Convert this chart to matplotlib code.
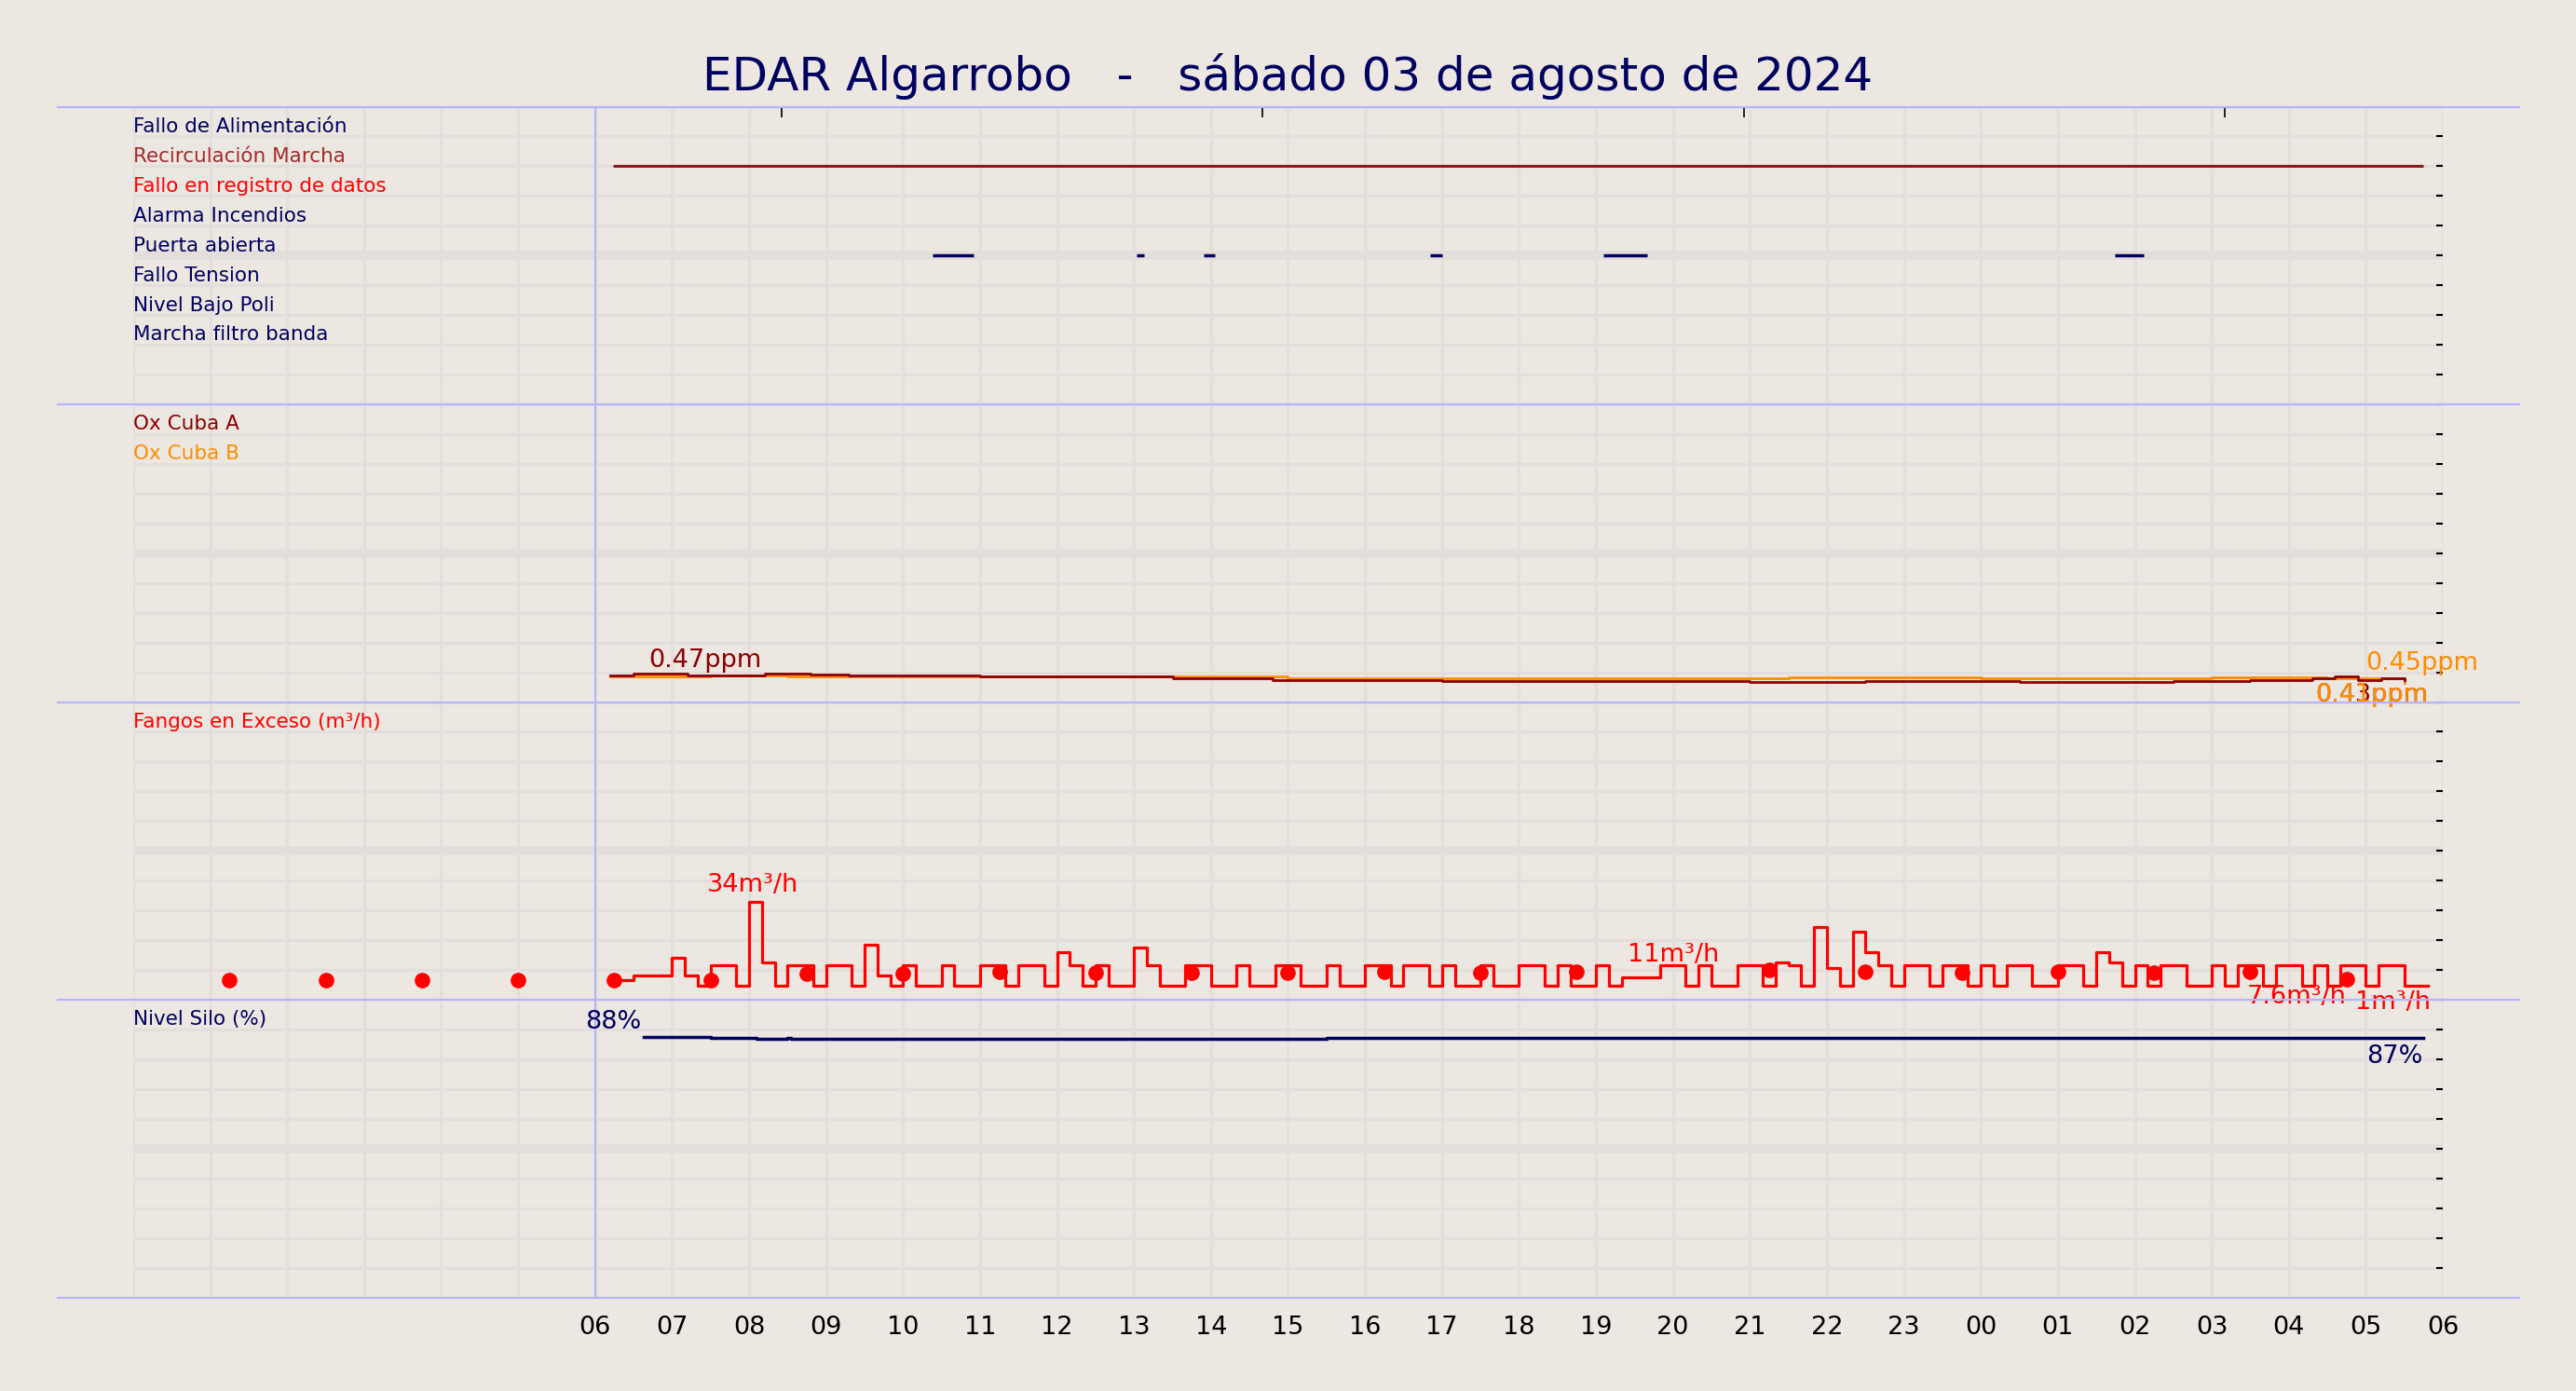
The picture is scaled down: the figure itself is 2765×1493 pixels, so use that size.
import numpy as np
import matplotlib
matplotlib.use("Agg")
import matplotlib.pyplot as plt
from matplotlib.lines import Line2D

# ---- datos ----
titulo = "EDAR Algarrobo   -   sábado 03 de agosto de 2024"
hour_labels = ["06", "07", "08", "09", "10", "11", "12", "13", "14", "15", "16", "17", "18",
               "19", "20", "21", "22", "23", "00", "01", "02", "03", "04", "05", "06"]

senales = ["Fallo de Alimentación", "Recirculación Marcha", "Fallo en registro de datos",
           "Alarma Incendios", "Puerta abierta", "Fallo Tension", "Nivel Bajo Poli",
           "Marcha filtro banda"]
senal_colores = ["#000060", "#A52A2A", "#FF0000", "#000060", "#000060",
                 "#000060", "#000060", "#000060"]
recirc_on = [(6.23, 29.74)]
puerta_on = [(10.38, 10.92), (13.03, 13.13), (13.9, 14.05), (16.84, 17.0),
             (19.1, 19.66), (25.74, 26.12)]

# oxigeno (ppm), cambios de escalon
ox_a_t = [6.2, 6.5, 7.2, 8.2, 8.8, 9.3, 11.0, 12.5, 13.5, 14.8, 15.5, 17.0, 19.0,
          21.0, 22.5, 24.5, 26.5, 27.5, 28.3, 28.6, 28.9, 29.2, 29.5]
ox_a_v = [0.46, 0.47, 0.46, 0.47, 0.465, 0.46, 0.455, 0.45, 0.44, 0.43, 0.425, 0.42,
          0.42, 0.415, 0.42, 0.415, 0.42, 0.425, 0.44, 0.45, 0.43, 0.44, 0.43]
ox_b_t = [6.2, 7.5, 8.5, 10.0, 13.0, 15.0, 18.0, 21.5, 24.0, 27.0, 28.5, 29.5]
ox_b_v = [0.45, 0.46, 0.455, 0.455, 0.45, 0.44, 0.44, 0.445, 0.44, 0.445, 0.44, 0.41]

# fangos en exceso (m3/h), valores cada 10 min desde 06:10
fangos_v = [3, 3, 5, 5, 5,
            12, 5, 1, 9, 9, 1,
            34, 10, 1, 9, 9, 1,
            9, 9, 1, 17, 5, 1,
            9, 1, 1, 9, 1, 1,
            9, 9, 1, 9, 9, 1,
            14, 9, 1, 9, 1, 1,
            16, 9, 1, 1, 9, 9,
            1, 1, 9, 1, 1, 9,
            9, 1, 1, 9, 1, 1,
            9, 9, 1, 9, 9, 1,
            9, 1, 1, 9, 1, 1,
            9, 9, 1, 9, 1, 1,
            9, 1, 4, 4, 4, 9,
            9, 1, 9, 1, 1, 9,
            9, 1, 10, 9, 1, 24,
            8, 1, 22, 14, 9, 1,
            9, 9, 1, 9, 9, 1,
            9, 1, 9, 9, 1, 1,
            9, 9, 1, 14, 10, 1,
            9, 1, 9, 9, 1, 1,
            9, 1, 9, 9, 1, 9,
            9, 1, 9, 1, 9, 9,
            1, 9, 9, 1, 1]
fangos_medias_t = [1.25, 2.5, 3.75, 5.0, 6.25, 7.5, 8.75, 10.0, 11.25, 12.5, 13.75, 15.0,
                   16.25, 17.5, 18.75, 21.25, 22.5, 23.75, 25.0, 26.25, 27.5, 28.75]
fangos_medias_v = [3, 3, 3, 3, 3, 3, 5.5, 5.5, 6.5, 6, 6, 6, 6.5, 6, 6.5, 7, 6.5, 6, 6.5, 6, 6.5, 3.5]

# nivel silo (%)
silo_t = [6.63, 7.5, 8.1, 8.5, 8.55, 15.5, 21.2, 22.0, 22.3, 23.0, 23.7, 24.0, 24.6,
          25.2, 26.0, 29.74]
silo_v = [88, 87.8, 87.6, 87.7, 87.6, 87.7, 87.8, 87.7, 87.8, 87.7, 87.8, 87.7,
          87.8, 87.7, 87.7, 87.7]

# ---- escalas de cada banda ----
def y_ox(v): return 20.85 + (np.asarray(v) - 0.45) * 5.0
def y_fan(v): return 10.4 + np.asarray(v) * 0.085
def y_silo(v): return np.asarray(v) * 0.0993

navy = "#000060"
bg = "#ECE7E1"
grid_c = "#E3DEDB"
blue = "#B4B4FF"

fig = plt.figure(figsize=(27.65, 14.93), dpi=100, facecolor=bg)
ax = fig.add_axes([0.0517, 0.0673, 0.8966, 0.8560], facecolor=bg)
ax.set_xlim(0, 30)
ax.set_ylim(0, 40)
for s in ax.spines.values():
    s.set_visible(False)

# rejilla
for h in range(0, 31):
    ax.axvline(h, color=grid_c, lw=2.2, zorder=0)
for r in range(0, 41):
    lw = 7 if r % 10 == 5 else 2.2
    ax.axhline(r, color=grid_c, lw=lw, zorder=0)
ax.axvline(6, color=blue, lw=1.5, zorder=1)
for yb in [0.0673 + 0.8560 * k / 4 for k in range(5)]:
    fig.add_artist(Line2D([0.0223, 0.978], [yb, yb], color=blue, lw=1.5, zorder=1))

ax.set_xticks(np.arange(6, 31))
ax.set_xticklabels(hour_labels, fontsize=19.5)
ax.tick_params(axis="x", length=0, pad=14)
ax.yaxis.tick_right()
ax.set_yticks(np.arange(1, 40))
ax.set_yticklabels([])
ax.tick_params(axis="y", length=5, width=1.5, direction="in", pad=0)
top = ax.secondary_xaxis("top")
top.set_xticks([8.42, 14.67, 20.92, 27.17])
top.set_xticklabels([])
top.tick_params(length=8, direction="in", width=1.2)
for s in top.spines.values():
    s.set_visible(False)

lab_fs = 15.5
# banda 1: senales
for i, (nom, c) in enumerate(zip(senales, senal_colores)):
    ax.text(0.0, 39 - i + 0.02, nom, color=c, fontsize=lab_fs, va="bottom", ha="left")
for a, b in recirc_on:
    ax.plot([a, b], [38, 38], color="#8B1A1A", lw=2.2, solid_capstyle="butt")
for a, b in puerta_on:
    ax.plot([a, b], [35, 35], color=navy, lw=2.5, solid_capstyle="butt")

# banda 2: oxigeno
ax.text(0.0, 29 + 0.02, "Ox Cuba A", color="#8B0000", fontsize=lab_fs, va="bottom")
ax.text(0.0, 28 + 0.02, "Ox Cuba B", color="#FF8C00", fontsize=lab_fs, va="bottom")
ax.step(ox_b_t, y_ox(ox_b_v), where="post", color="#FF8C00", lw=2)
ax.step(ox_a_t, y_ox(ox_a_v), where="post", color="#8B0000", lw=2)
ax.text(6.7, 21.0, "0.47ppm", color="#8B0000", fontsize=19.5, va="bottom")
ax.text(29.0, 20.9, "0.45ppm", color="#FF8C00", fontsize=19.5, va="bottom")
ax.text(28.35, 20.25, "0.43ppm", color="#8B0000", fontsize=19.5, va="center")
ax.text(28.35, 20.25, "0.41ppm", color="#FF8C00", fontsize=19.5, va="center")

# banda 3: fangos
ax.text(0.0, 19 + 0.02, "Fangos en Exceso (m³/h)", color="#FF0000", fontsize=lab_fs, va="bottom")
fan_t = 6 + (np.arange(len(fangos_v)) + 1) / 6
ax.step(np.append(fan_t, 29.8), y_fan(fangos_v + [fangos_v[-1]]), where="post",
        color="#FF0000", lw=2.3)
ax.plot(fangos_medias_t, y_fan(fangos_medias_v), "o", color="#FF0000", ms=11)
ax.text(8.05, 13.45, "34m³/h", color="#FF0000", fontsize=19.5, ha="center", va="bottom")
ax.text(20.0, 11.1, "11m³/h", color="#FF0000", fontsize=19.5, ha="center", va="bottom")
ax.text(28.1, 10.1, "7.6m³/h", color="#FF0000", fontsize=19.5, ha="center", va="center")
ax.text(29.35, 9.9, "1m³/h", color="#FF0000", fontsize=19.5, ha="center", va="center")

# banda 4: silo
ax.text(0.0, 9 + 0.02, "Nivel Silo (%)", color=navy, fontsize=lab_fs, va="bottom")
ax.step(silo_t, y_silo(silo_v), where="post", color=navy, lw=2.5)
ax.text(6.6, 8.85, "88%", color=navy, fontsize=19.5, ha="right", va="bottom")
ax.text(29.74, 8.5, "87%", color=navy, fontsize=19.5, ha="right", va="top")

fig.suptitle(titulo, y=0.962, fontsize=36, color=navy)
fig.savefig("out.png", dpi=100, facecolor=bg)
